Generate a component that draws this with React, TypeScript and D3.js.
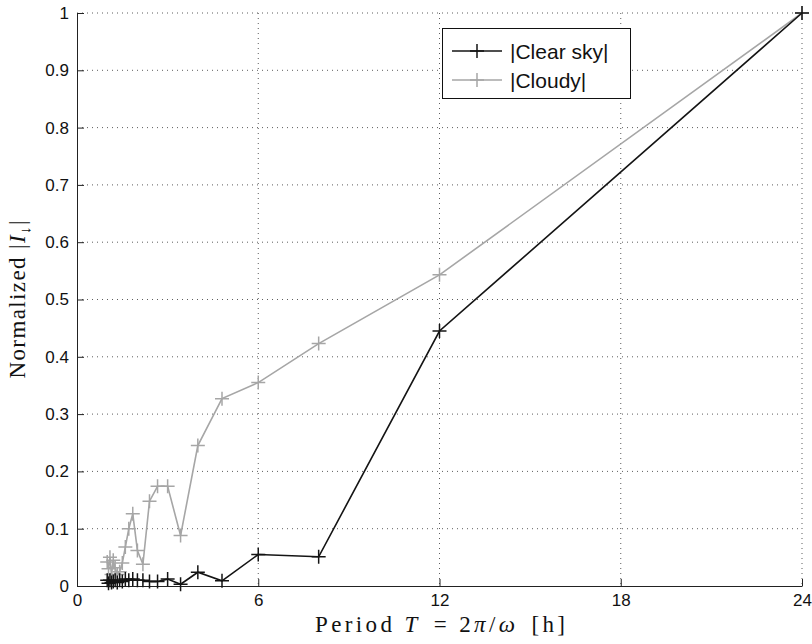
import { useEffect, useRef } from 'react';
import * as d3 from 'd3';

// harmonic periods T = 24/n [h]
const harmonics = d3.range(1, 25);
const periods = harmonics.map((n) => 24 / n);

const clearSky = [
  1, 0.445, 0.051, 0.055, 0.009, 0.024, 0.003, 0.012, 0.008, 0.008, 0.01, 0.01,
  0.012, 0.01, 0.012, 0.008, 0.01, 0.006, 0.01, 0.008, 0.006, 0.01, 0.005, 0.01,
];
const cloudy = [
  1, 0.543, 0.423, 0.355, 0.327, 0.245, 0.088, 0.174, 0.174, 0.148, 0.038, 0.062,
  0.126, 0.1, 0.068, 0.04, 0.025, 0.02, 0.032, 0.045, 0.02, 0.05, 0.03, 0.042,
];

const xTicks = [0, 6, 12, 18, 24];
const yTicks = [0, 0.1, 0.2, 0.3, 0.4, 0.5, 0.6, 0.7, 0.8, 0.9, 1];

const seriesNames = ['|Clear sky|', '|Cloudy|'];
const seriesColors = ['#141414', '#a6a6a6'];

const W = 812;
const H = 644;

export default function App() {
  const svgRef = useRef<SVGSVGElement>(null);

  useEffect(() => {
    if (!svgRef.current) return;
    const svg = d3.select(svgRef.current);
    svg.selectAll('*').remove();

    const left = 77, right = 802, top = 13, bottom = 586;
    const x = d3.scaleLinear().domain([0, 24]).range([left, right]);
    const y = d3.scaleLinear().domain([0, 1]).range([bottom, top]);
    const sans = 'Liberation Sans, Arial, sans-serif';
    const serif = 'Liberation Serif, Times New Roman, serif';

    svg.append('rect').attr('width', W).attr('height', H).attr('fill', '#fff');

    // dotted grid
    const grid = svg.append('g').attr('stroke', '#333').attr('stroke-width', 0.8).attr('stroke-dasharray', '1,4');
    xTicks.slice(1).forEach((t) => {
      grid.append('line').attr('x1', x(t)).attr('x2', x(t)).attr('y1', top).attr('y2', bottom);
    });
    yTicks.slice(1).forEach((t) => {
      grid.append('line').attr('x1', left).attr('x2', right).attr('y1', y(t)).attr('y2', y(t));
    });

    // axes, ticks pointing inward
    const xAxis = d3.axisBottom(x).tickValues(xTicks).tickFormat(d3.format('d')).tickSizeInner(-7).tickSizeOuter(0).tickPadding(11);
    const yAxis = d3.axisLeft(y).tickValues(yTicks)
      .tickFormat((d) => (d === 0 || d === 1 ? String(d) : d3.format('.1f')(d as number)))
      .tickSizeInner(-7).tickSizeOuter(0).tickPadding(8);

    const gx = svg.append('g').attr('transform', `translate(0,${bottom})`).call(xAxis);
    const gy = svg.append('g').attr('transform', `translate(${left},0)`).call(yAxis);
    [gx, gy].forEach((g) => {
      g.selectAll('text').attr('font-family', sans).attr('font-size', 17).attr('fill', '#111');
      g.selectAll('line').attr('stroke', '#222');
      g.select('.domain').attr('stroke', '#222').attr('stroke-width', 1);
    });
    gx.selectAll('text').attr('dy', '0.5em');

    // series
    const allSeries = [clearSky, cloudy];
    const line = d3.line<number>().x((_, i) => x(periods[i])).y((d) => y(d));
    const cross = (g: any, cx: number, cy: number, color: string) => {
      const s = 7;
      g.append('path')
        .attr('d', `M${cx - s},${cy}H${cx + s}M${cx},${cy - s}V${cy + s}`)
        .attr('stroke', color)
        .attr('stroke-width', 1.5)
        .attr('fill', 'none');
    };

    // cloudy first, clear sky on top
    [1, 0].forEach((k) => {
      const g = svg.append('g');
      g.append('path')
        .datum(allSeries[k])
        .attr('d', line)
        .attr('fill', 'none')
        .attr('stroke', seriesColors[k])
        .attr('stroke-width', 1.6);
      allSeries[k].forEach((v, i) => cross(g, x(periods[i]), y(v), seriesColors[k]));
    });

    // legend
    const lg = svg.append('g');
    lg.append('rect').attr('x', 442.5).attr('y', 28.5).attr('width', 188).attr('height', 70)
      .attr('fill', '#fff').attr('stroke', '#111').attr('stroke-width', 1);
    seriesNames.forEach((name, k) => {
      const ly = 51 + k * 29;
      lg.append('line').attr('x1', 452).attr('x2', 502).attr('y1', ly).attr('y2', ly)
        .attr('stroke', seriesColors[k]).attr('stroke-width', 1.6);
      cross(lg, 477, ly, seriesColors[k]);
      lg.append('text').attr('x', 510).attr('y', ly).attr('dy', '0.36em')
        .attr('font-family', sans).attr('font-size', 21).attr('fill', '#111')
        .text(name);
    });

    // axis labels (LaTeX-like, wide spacing)
    const xl = svg.append('text').attr('x', 440).attr('y', 632).attr('text-anchor', 'middle')
      .attr('font-family', serif).attr('font-size', 23).attr('fill', '#111')
      .attr('textLength', 250).attr('lengthAdjust', 'spacing');
    xl.append('tspan').text('Period ');
    xl.append('tspan').attr('font-style', 'italic').text('T');
    xl.append('tspan').attr('dx', 4).text(' = 2');
    xl.append('tspan').attr('font-style', 'italic').text('π');
    xl.append('tspan').text('/');
    xl.append('tspan').attr('font-style', 'italic').text('ω');
    xl.append('tspan').attr('dx', 4).text(' [h]');

    const yl = svg.append('text').attr('transform', `translate(25,${(top + bottom) / 2}) rotate(-90)`)
      .attr('text-anchor', 'middle')
      .attr('font-family', serif).attr('font-size', 23).attr('fill', '#111')
      .attr('textLength', 158).attr('lengthAdjust', 'spacing');
    yl.append('tspan').text('Normalized |');
    yl.append('tspan').attr('font-style', 'italic').text('I');
    yl.append('tspan').attr('font-size', 15).attr('dy', 5).text('↓');
    yl.append('tspan').attr('dy', -5).text('|');
  }, []);

  return (
    <svg ref={svgRef} width={W} height={H} style={{ position: 'absolute', left: 0, top: 0, display: 'block' }} />
  );
}
